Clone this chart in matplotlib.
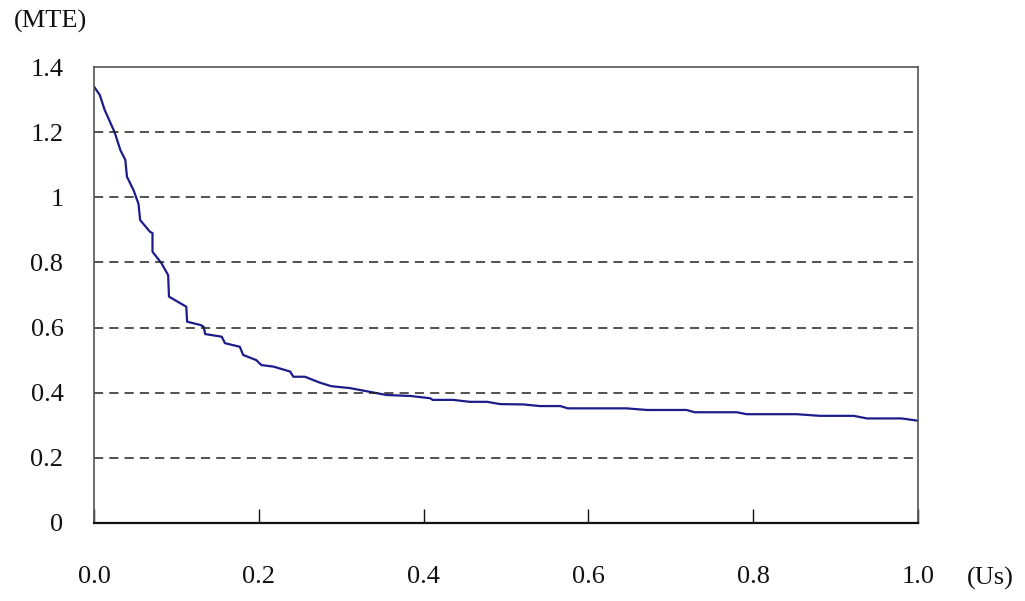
import numpy as np
import matplotlib.pyplot as plt

# curve (Us, MTE)
us = [0.000, 0.007, 0.013, 0.025, 0.032, 0.038, 0.040, 0.048, 0.054, 0.056,
      0.068, 0.071, 0.071, 0.082, 0.090, 0.091, 0.112, 0.113, 0.129, 0.133,
      0.135, 0.155, 0.159, 0.177, 0.181, 0.197, 0.203, 0.218, 0.238, 0.242,
      0.256, 0.274, 0.288, 0.311, 0.355, 0.384, 0.408, 0.411, 0.436, 0.456,
      0.477, 0.493, 0.521, 0.541, 0.566, 0.575, 0.646, 0.671, 0.719, 0.729,
      0.780, 0.792, 0.853, 0.881, 0.922, 0.938, 0.980, 1.000]
mte = [1.340, 1.314, 1.268, 1.200, 1.145, 1.115, 1.063, 1.022, 0.980, 0.930,
       0.894, 0.890, 0.833, 0.797, 0.761, 0.695, 0.664, 0.618, 0.608, 0.603,
       0.580, 0.572, 0.552, 0.541, 0.516, 0.500, 0.485, 0.480, 0.465, 0.449,
       0.449, 0.431, 0.420, 0.414, 0.393, 0.390, 0.383, 0.378, 0.378, 0.372,
       0.372, 0.365, 0.364, 0.359, 0.359, 0.352, 0.352, 0.347, 0.347, 0.340,
       0.340, 0.334, 0.334, 0.329, 0.329, 0.321, 0.321, 0.314]

x_ticks = [0.0, 0.2, 0.4, 0.6, 0.8, 1.0]
x_labels = ["0.0", "0.2", "0.4", "0.6", "0.8", "1.0"]
y_ticks = [0, 0.2, 0.4, 0.6, 0.8, 1.0, 1.2, 1.4]
y_labels = ["0", "0.2", "0.4", "0.6", "0.8", "1", "1.2", "1.4"]

plt.rcParams["font.family"] = ["Liberation Serif", "DejaVu Serif"]

fig = plt.figure(figsize=(10.25, 6.01), dpi=100)
ax = fig.add_axes([0.0917, 0.1298, 0.8039, 0.7587])

ax.plot(us, mte, color="#1c1c8a", linewidth=1.6)

ax.set_xlim(0, 1.0)
ax.set_ylim(0, 1.4)
ax.set_xticks(x_ticks)
ax.set_xticklabels(x_labels)
ax.set_yticks(y_ticks)
ax.set_yticklabels(y_labels)

for y in y_ticks[1:-1]:
    ax.axhline(y, color="#222222", linewidth=1.1, linestyle=(0, (6, 4)))

ax.tick_params(axis="x", direction="in", length=10, width=1, pad=31,
               labelsize=19, colors="#111111")
ax.tick_params(axis="y", length=0, pad=22, labelsize=19, colors="#111111")

for name in ["top", "right", "left"]:
    ax.spines[name].set_color("#555555")
    ax.spines[name].set_linewidth(1.2)
ax.spines["bottom"].set_color("#111111")
ax.spines["bottom"].set_linewidth(1.6)

fig.text(0.049, 0.965, "(MTE)", fontsize=19, ha="center", va="center", color="#111111")
fig.text(0.966, 0.038, "(Us)", fontsize=19, ha="center", va="center", color="#111111")

fig.savefig("out.png", dpi=100, facecolor="white")
